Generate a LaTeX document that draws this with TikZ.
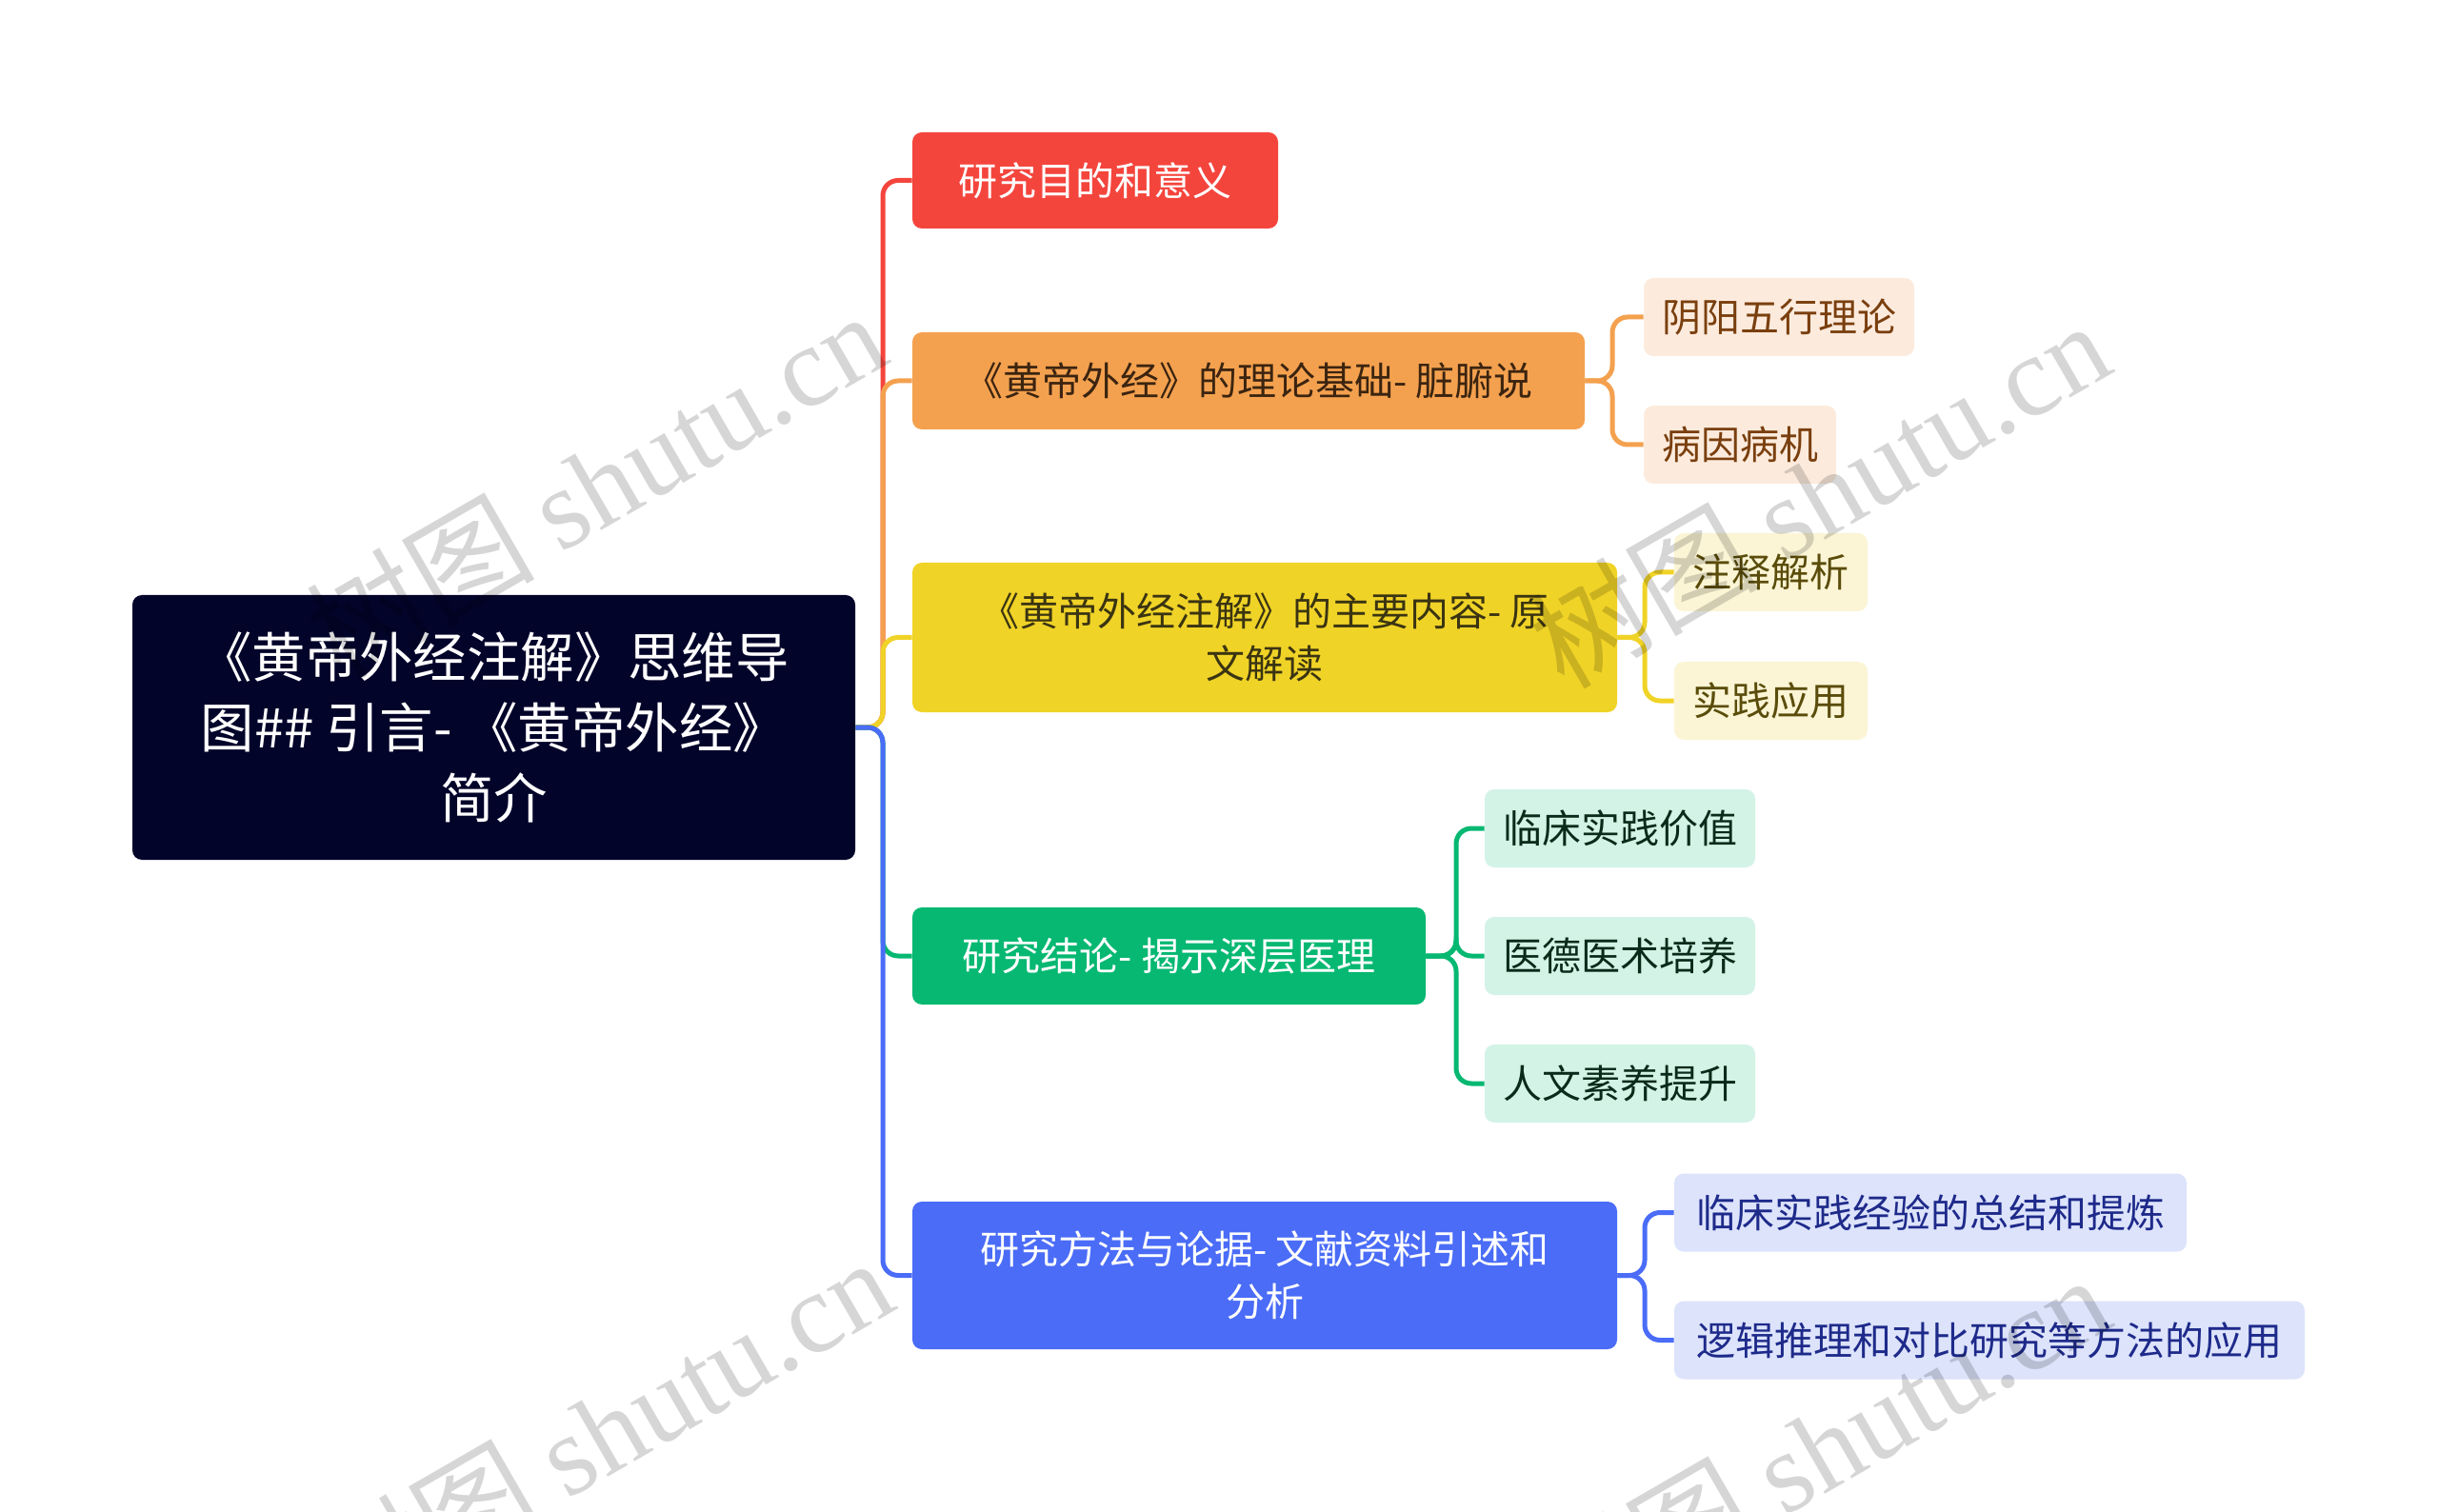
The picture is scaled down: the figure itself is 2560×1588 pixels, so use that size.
\documentclass[tikz,border=0pt]{standalone}
\usepackage{fontspec}
\setmainfont{Noto Sans CJK SC}
\newfontfamily\wmserif{Liberation Serif}
\definecolor{croot}{HTML}{03042A}
\definecolor{cred}{HTML}{F4453D}
\definecolor{corange}{HTML}{F4A14F}
\definecolor{cyellow}{HTML}{F0D327}
\definecolor{cgreen}{HTML}{06B872}
\definecolor{cblue}{HTML}{4A6CF7}
\definecolor{lorange}{HTML}{FCEBDD}
\definecolor{lyellow}{HTML}{FBF5D5}
\definecolor{lgreen}{HTML}{D3F3E6}
\definecolor{lblue}{HTML}{DCE3FB}
\definecolor{torange}{HTML}{7A3F0E}
\definecolor{tyellow}{HTML}{5A4C0A}
\definecolor{tgreen}{HTML}{0A2A1A}
\definecolor{tblue}{HTML}{1E2A8A}
\definecolor{tbrown}{HTML}{3B2410}
\definecolor{tdark}{HTML}{3A3412}
\tikzset{
  box/.style={rounded corners=5pt, inner sep=0pt, align=center, font=\fontsize{20.5}{27.5}\selectfont},
  leaf/.style={box, minimum height=41pt},
  conn/.style={line width=2.5pt, rounded corners=8pt},
  wm/.style={text=black, text opacity=0.16, rotate=30, font=\fontsize{60}{60}\selectfont, inner sep=0pt}
}
\begin{document}
\begin{tikzpicture}[x=0.5pt, y=-0.5pt]
\useasboundingbox[fill=white] (0,0) rectangle (2560,1588);
% root
\node[box, fill=croot, text=white, minimum width=379.5pt, minimum height=139pt,
      font=\fontsize{28.2}{37}\selectfont] (root) at (518.5,764)
  {《黄帝外经注解》思维导\\图\#\# 引言- 《黄帝外经》\\简介};
% main branches
\node[box, fill=cred, text=white, minimum width=192pt, minimum height=50.5pt] (red) at (1150,189.5) {研究目的和意义};
\node[box, fill=corange, text=tbrown, minimum width=353pt, minimum height=51pt] (orange) at (1311,400) {《黄帝外经》的理论基础- 脏腑说};
\node[box, fill=cyellow, text=tdark, minimum width=370pt, minimum height=78.5pt] (yellow) at (1328,669.5) {《黄帝外经注解》的主要内容- 原\\文解读};
\node[box, fill=cgreen, text=white, minimum width=269.5pt, minimum height=51pt] (green) at (1227.5,1004) {研究结论- 揭示深层医理};
\node[box, fill=cblue, text=white, minimum width=370pt, minimum height=77.5pt] (blue) at (1328,1339.5) {研究方法与论据- 文献资料引述和\\分析};
% leaves
\node[leaf, fill=lorange, text=torange, minimum width=142pt] (o1) at (1868,333) {阴阳五行理论};
\node[leaf, fill=lorange, text=torange, minimum width=101pt] (o2) at (1827,467) {病因病机};
\node[leaf, fill=lyellow, text=tyellow, minimum width=101.5pt] (y1) at (1859.5,601) {注释解析};
\node[leaf, fill=lyellow, text=tyellow, minimum width=101.5pt] (y2) at (1859.5,736) {实践应用};
\node[leaf, fill=lgreen, text=tgreen, minimum width=142pt] (g1) at (1701,870) {临床实践价值};
\node[leaf, fill=lgreen, text=tgreen, minimum width=142pt] (g2) at (1701,1004) {医德医术培养};
\node[leaf, fill=lgreen, text=tgreen, minimum width=142pt] (g3) at (1701,1138) {人文素养提升};
\node[leaf, fill=lblue, text=tblue, minimum width=269pt] (b1) at (2027,1273.5) {临床实践经验的总结和提炼};
\node[leaf, fill=lblue, text=tblue, minimum width=331pt] (b2) at (2089,1407.5) {逻辑推理和对比研究等方法的应用};
% trunk coordinates
\coordinate (tr) at (927,0);
\coordinate (to) at (1693,0);
\coordinate (ty) at (1727,0);
\coordinate (tg) at (1529,0);
\coordinate (tb) at (1727,0);
% main connectors
\draw[conn, cred] (root.east) -- (root.east -| tr) |- (red.west);
\draw[conn, corange] (root.east) -- (root.east -| tr) |- (orange.west);
\draw[conn, cyellow] (root.east) -- (root.east -| tr) |- (yellow.west);
\draw[conn, cgreen] (root.east) -- (root.east -| tr) |- (green.west);
\draw[conn, cblue] (root.east) -- (root.east -| tr) |- (blue.west);
% sub connectors
\draw[conn, corange] (orange.east) -- (orange.east -| to) |- (o1.west);
\draw[conn, corange] (orange.east) -- (orange.east -| to) |- (o2.west);
\draw[conn, cyellow] (yellow.east) -- (yellow.east -| ty) |- (y1.west);
\draw[conn, cyellow] (yellow.east) -- (yellow.east -| ty) |- (y2.west);
\draw[conn, cgreen] (green.east) -- (green.east -| tg) |- (g1.west);
\draw[conn, cgreen] (green.east) -- (green.east -| tg) |- (g2.west);
\draw[conn, cgreen] (green.east) -- (green.east -| tg) |- (g3.west);
\draw[conn, cblue] (blue.east) -- (blue.east -| tb) |- (b1.west);
\draw[conn, cblue] (blue.east) -- (blue.east -| tb) |- (b2.west);
% watermarks
\node[wm] (w1) at (625,508) {树图 {\wmserif shutu.cn}};
\node[wm] (w2) at (1910,518) {树图 {\wmserif shutu.cn}};
\node[wm] (w3) at (632,1502) {树图 {\wmserif shutu.cn}};
\node[wm] (w4) at (1910,1520) {树图 {\wmserif shutu.cn}};
\end{tikzpicture}
\end{document}
